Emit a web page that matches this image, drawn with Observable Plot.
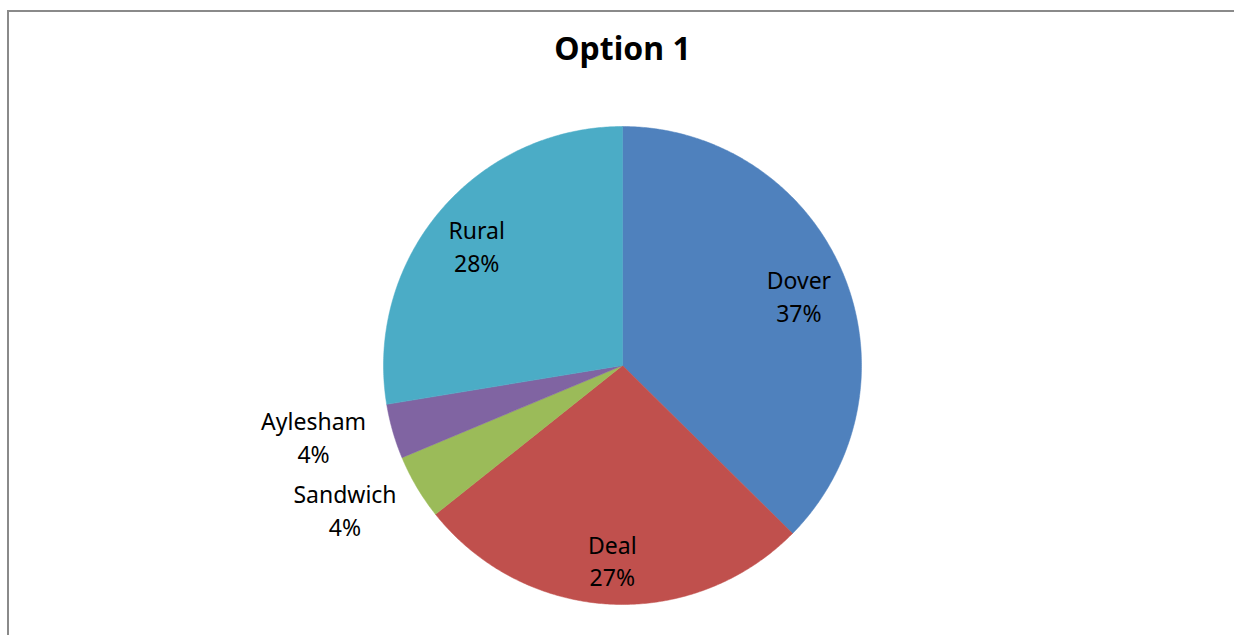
<!DOCTYPE html>
<html>
<head>
<meta charset="utf-8">
<script src="https://cdn.jsdelivr.net/npm/d3@7"></script>
<script src="https://cdn.jsdelivr.net/npm/@observablehq/plot@0.6"></script>
<style>
  html, body { margin: 0; padding: 0; background: #fff; overflow: hidden; }
  #wrap { position: relative; width: 1234px; height: 635px; }
  #border { position: absolute; left: 7px; top: 10px; width: 1300px; height: 700px; border: 2px solid #8a8a8a; box-sizing: border-box; }
  #chart { position: absolute; left: 0; top: 0; }
</style>
</head>
<body>
<div id="wrap"><div id="border"></div><div id="chart"></div></div>
<script>
const title = "Option 1";
const categories = ["Dover", "Deal", "Sandwich", "Aylesham", "Rural"];
const shares = [37.4, 26.9, 4.4, 3.7, 27.6];
const colors = ["#4F81BD", "#C0504D", "#9BBB59", "#8064A2", "#4BACC6"];

const total = d3.sum(shares);
let acc = 0;
const slices = categories.map((c, i) => {
  const a0 = acc / total * 2 * Math.PI;
  acc += shares[i];
  const a1 = acc / total * 2 * Math.PI;
  return {category: c, value: shares[i], a0, a1, color: colors[i]};
});

const polys = [];
for (const s of slices) {
  polys.push({category: s.category, x: 0, y: 0});
  const n = Math.max(2, Math.ceil((s.a1 - s.a0) / (Math.PI / 360)));
  for (let k = 0; k <= n; k++) {
    const a = s.a0 + (s.a1 - s.a0) * k / n;
    polys.push({category: s.category, x: Math.sin(a), y: Math.cos(a)});
  }
  polys.push({category: s.category, x: 0, y: 0});
}

const labels = slices.map(s => {
  const frac = s.value / total;
  const am = (s.a0 + s.a1) / 2;
  const outside = frac < 0.05;
  const r = outside ? 1.31 : 0.8;
  return {x: r * Math.sin(am), y: r * Math.cos(am), outside, text: `${s.category}\n${Math.round(s.value)}%`};
});

const labelStyle = {x: "x", y: "y", text: "text", fontSize: 23, lineHeight: 1.42, fill: "#000", fontFamily: "Noto Sans, sans-serif"};

const chart = Plot.plot({
  width: 1234,
  height: 635,
  marginLeft: 383,
  marginRight: 373,
  marginTop: 126,
  marginBottom: 31,
  x: {domain: [-1, 1], axis: null},
  y: {domain: [-1, 1], axis: null},
  color: {domain: categories, range: colors},
  style: {background: "transparent", overflow: "visible"},
  marks: [
    Plot.line(polys, {x: "x", y: "y", z: "category", fill: "category", stroke: "category", strokeWidth: 0.5, curve: "linear"}),
    Plot.text(labels.filter(d => !d.outside), {...labelStyle, dy: 3}),
    Plot.text(labels.filter(d => d.outside), {...labelStyle, dx: -8, dy: -16}),
    Plot.text([title], {frameAnchor: "top", lineAnchor: "middle", text: d => d, dy: -77, fontSize: 32, fontWeight: "bold", fill: "#000", fontFamily: "Noto Sans, sans-serif"})
  ]
});
document.getElementById("chart").appendChild(chart);
</script>
</body>
</html>
